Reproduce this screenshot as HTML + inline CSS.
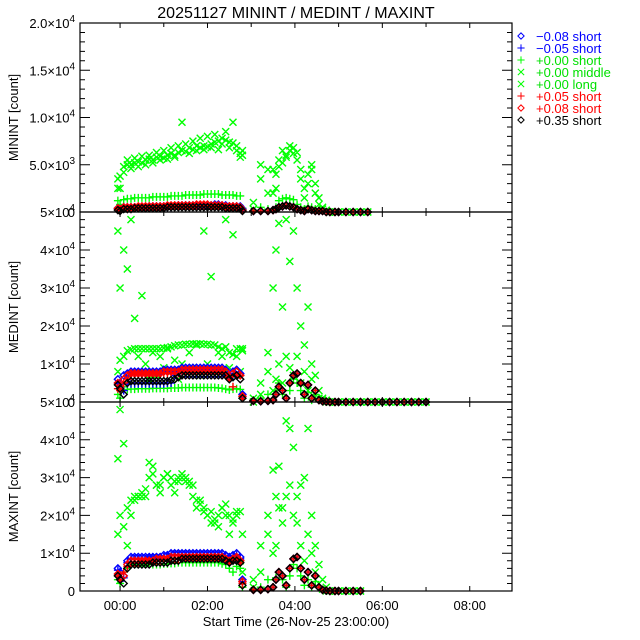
<!DOCTYPE html>
<html><head><meta charset="utf-8"><style>
html,body{margin:0;padding:0;background:#fff}
svg{display:block;font-family:"Liberation Sans",sans-serif}
</style></head><body>
<svg id="chart" width="640" height="640" viewBox="0 0 640 640" xmlns="http://www.w3.org/2000/svg">
<rect width="640" height="640" fill="#fff"/>
<text x="296" y="18" font-size="16" text-anchor="middle">20251127 MININT / MEDINT / MAXINT</text>
<text x="296" y="626" font-size="13" text-anchor="middle">Start Time (26-Nov-25 23:00:00)</text>
<g id="plots"></g>
<g id="legend"></g>
</svg>
<script>
// minutes after 23:00
const times=[57,60,65,70,75,80,85,90,95,100,105,110,115,120,125,130,135,140,145,150,155,160,165,170,175,180,185,190,195,200,205,210,215,220,225,228,
243,253,263,270,274,278,283,288,293,298,303,308,313,318,323,328,333,338,343,348,
355,360,370,380,390,400,410,420,430,440,450,460,470,480];
const xTickLabels=["00:00","02:00","04:00","06:00","08:00"];
const xTickMinutes=[60,180,300,420,540];
const seriesNames=["-0.08 short","-0.05 short","+0.00 short","+0.00 middle","+0.00 long","+0.05 short","+0.08 short","+0.35 short"];
const legendLabels=["\u22120.08 short","\u22120.05 short","+0.00 short","+0.00 middle","+0.00 long","+0.05 short","+0.08 short","+0.35 short"];

// ---- MININT (thousands) ----
const topSeg2Dia=[0.1,0.1,0.1,0.2,0.3,0.5,0.6,0.7,0.6,0.5,0.3,0.2,0.1,0.3,0.2,0.1,0.1,0.1,0,0];
const topTail=[0,0,0,0,0,0,null,null,null,null,null,null,null,null];
const topBD=[0.4,0.3,0.5,0.5,0.5,0.5,0.5,0.5,0.5,0.6,0.6,0.6,0.6,0.6,0.6,0.6,0.6,0.7,0.7,0.7,0.7,0.7,0.7,0.7,0.7,0.7,0.7,0.8,0.8,0.7,0.7,0.6,0.6,0.6,0.6,0.3];
const topBP=[0.3,0.3,0.4,0.4,0.5,0.5,0.5,0.5,0.5,0.5,0.5,0.5,0.5,0.5,0.5,0.5,0.6,0.6,0.6,0.6,0.6,0.6,0.6,0.6,0.6,0.6,0.6,0.7,0.7,0.6,0.6,0.5,0.5,0.5,0.5,0.2];
const topGP=[1.2,0.8,1.3,1.4,1.4,1.5,1.5,1.5,1.5,1.5,1.6,1.6,1.6,1.6,1.6,1.7,1.7,1.7,1.7,1.8,1.8,1.8,1.8,1.8,1.9,1.9,1.9,1.9,1.9,1.8,1.8,1.8,1.8,1.7,1.7,0.4];
const topGPseg2=[0.1,0.5,0.3,0.2,0.5,1.2,1.4,1.5,1.4,1.3,0.8,0.5,0.3,0.6,0.5,0.3,0.2,0.1,0,0];
const topGM=[3.5,2.5,4.8,5.0,5.0,5.2,5.3,5.2,5.5,5.6,5.5,5.8,5.9,5.7,6.0,6.2,6.0,6.3,6.5,6.4,6.8,6.6,7.0,6.8,7.0,6.9,7.2,7.4,7.5,7.2,7.6,7.4,7.3,6.5,6.2,6.0];
const topGMseg2=[0.3,3.5,4.5,2.0,4.0,4.8,5.2,6.0,6.5,6.8,6.3,3.5,2.5,4.0,4.5,2.0,0.8,0.3,0.1,0];
const topGL=[2.5,3.8,4.2,5.5,4.6,5.7,4.8,5.9,5.0,6.0,5.2,6.3,5.5,6.5,5.6,6.8,5.8,7.0,9.5,7.2,6.2,7.5,6.5,7.8,6.6,8.0,6.8,8.2,6.6,7.8,8.5,6.8,9.5,7.0,5.8,6.5];
const topGLseg2=[1.0,5.0,2.0,4.5,2.5,5.5,6.5,5.8,7.0,6.2,5.5,4.5,1.5,3.0,5.0,3.0,1.5,0.5,0.2,0];
const topRP=[0.3,0.2,0.4,0.5,0.5,0.5,0.5,0.5,0.6,0.6,0.6,0.6,0.6,0.6,0.6,0.6,0.7,0.7,0.7,0.7,0.7,0.7,0.7,0.7,0.7,0.7,0.7,0.7,0.7,0.7,0.6,0.6,0.6,0.6,0.5,0.2];
const topRD=[0.4,0.3,0.5,0.5,0.5,0.5,0.6,0.6,0.6,0.6,0.6,0.6,0.6,0.6,0.7,0.7,0.7,0.7,0.7,0.7,0.7,0.7,0.8,0.8,0.8,0.8,0.7,0.7,0.7,0.7,0.6,0.6,0.6,0.6,0.5,0.2];
const topKD=[0.2,0.1,0.3,0.3,0.3,0.4,0.4,0.4,0.4,0.4,0.4,0.4,0.4,0.4,0.5,0.5,0.5,0.5,0.5,0.5,0.5,0.5,0.5,0.5,0.5,0.5,0.5,0.5,0.5,0.5,0.4,0.4,0.4,0.4,0.4,0.1];

// ---- MEDINT (thousands) ----
const midSeg2Dia=[0.3,0.2,0.3,0.5,2,4,3,1,5,7,7.5,5,2,4.5,1,3,0.5,0.2,0.1,0];
const midTail=[0,0,0,0,0,0,0,0,0,0,0,0,0,0];
const midBD=[6,5,7,7.5,8,8,8,8,8,8,8,8,8,8.5,8.5,8.5,8.5,8.5,9,9,9,9,9,9,9,9,9,9,9,9,8.5,7,8,8.5,7.5,2];
const midBP=[5,4,3,4.8,4.8,4.8,4.8,4.8,4.8,4.8,4.8,4.8,4.8,4.8,5,5,7,7.5,7.5,7.5,7.5,7.5,7.5,7.5,7.5,7.5,7.5,7.5,7.5,7.5,7,6.5,7,7,7,1.5];
const midGP=[2,1,4,3.3,3.4,3.4,3.5,3.5,3.5,3.5,3.6,3.6,3.6,3.6,3.6,3.7,3.7,3.7,3.8,3.8,3.8,3.8,3.8,3.8,3.8,3.8,3.8,3.8,3.7,3.6,3.4,3.2,3.4,3.5,3.3,1];
const midGPseg2=[0.5,1,2,0.5,3,5,2,1,3,6,5,3,1,2.5,0.5,2,1,0.3,0.1,0];
const midGM=[8,11,12,13.5,13.8,14,14,14,14,14,14,14,14,14.2,14.3,14.5,14.8,15,15,15.2,15.2,15.3,15.3,15.3,15.2,15.2,15,15,14.5,14,14.5,13,12.5,14,14,13.5];
const midGMseg2=[0,2,8,3,6,10,5,12,9,7,12,5,8,3,6,2,1,0.5,0,0];
const midGL=[45,30,40,35,48,22,12,28,10,6,13,7,12,9,14,8,11,6,10,8,13,9,15,7,45,10,33,8,13,12,48,9,44,12,8,14];
const midGLseg2=[1,5,13,30,40,47,25,48,37,45,30,20,15,25,10,7,3,1,0.5,0];
const midRP=[3.5,3,5,6,7.5,7.5,7.5,7.5,7.5,7.5,7.5,7.5,7.5,7.5,7.5,7.5,7.5,7.5,8,8,8,8,8,8,8,8,8,8,8,8,7.5,6.5,4,7,7,1.5];
const midRD=[5,4,6,7,7.5,7.5,7.5,7.5,7.5,7.5,7.5,7.5,7.5,8,8,8,8,8,8.5,8.5,8.5,8.5,8.5,8.5,8.5,8.5,8.5,8.5,8.5,8.5,8,6.5,7.5,8,7,1.5];
const midKD=[4.5,3.5,2,5,5.5,5.5,5.5,5.5,5.5,5.5,5.5,5.5,5.5,5.5,5.5,5.8,6,6.5,7,7,7,7,7,7,7,7,7,7,7,7,7,6,6.5,7,6,1];

// ---- MAXINT (thousands) ----
const botSeg2Dia=[0.3,0.3,0.5,1,3,5,4,1.5,6,8.5,9,6,3,5,1.5,4,1,0.3,0.1,0];
const botTail=[0,0,0,0,0,null,null,null,null,null,null,null,null,null];
const botBD=[6,5,4,8,9,9,9,9,9,9,9,9,9,9.5,9.5,10,10,10,10,10,10,10,10,10,10,10,10,10,10,10,9.5,9,9.5,10,9,3];
const botBP=[5.5,4.5,3.5,7.5,8.5,8.5,8.5,8.5,8.5,9,9,9,9,9,9,9.5,9.5,9.5,9.5,9.5,9.5,9.5,9.5,9.5,9.5,9.5,9.5,9.5,9.5,9.5,9,8.5,9,9.5,8.5,2.5];
const botGP=[3,2,5,6,7,7,7,7,7,7,7,7,7,7.2,7.2,7.3,7.3,7.5,7.5,7.5,7.5,7.5,7.5,7.5,7.5,7.5,7.5,7.5,7.5,7.2,7,6,5,6.5,6,1];
const botGPseg2=[0.5,1,3,1,3.5,5,3,1,4,7,6,4,1.5,3,1,2.5,1,0.3,0.1,0];
const botGM=[15,20,17,22,24,25,25,25,27,34,31,28,28,30,31,30,29,30,31,30,29,28,24,23,22,20,21,18,20,22,23,20,19,21,21,15];
const botGMseg2=[1,5,15,10,12,22,18,25,28,20,18,12,8,15,10,5,2,0.5,0,0];
const botGL=[35,48,39,12,20,24,25,26,25,30,33,28,26,30,31,28,26,29,30,29,28,25,22,24,21,20,18,19,17,22,20,15,18,20,8,5];
const botGLseg2=[3,12,20,32,25,33,22,45,43,38,25,28,30,43,20,12,7,3,1,0];
const botRP=[4,3,5,6.5,7.5,7.5,7.5,8,8,8,8,8,8,8.5,8.5,8.5,8.5,8.5,9,9,9,9,9,9,9,9,9,9,9,9,8.5,8,8.5,9,8,2];
const botRD=[4.5,3.5,4,7,8,8,8,8,8,8,8,8.5,8.5,8.5,8.5,9,9,9,9,9,9,9,9,9,9,9,9,9,9,9,8.5,8,8.5,9,8,2.5];
const botKD=[4,3,2,6,7,7,7,7,7,7,7.5,7.5,7.5,7.5,7.5,8,8,8,8.5,8.5,8.5,8.5,8.5,8.5,8.5,8.5,8.5,8.5,8.5,8.5,8,7.5,8,8,7.5,1.5];

const NS="http://www.w3.org/2000/svg";
const X0=80,X1=512,TMIN=5,TMAX=598;
function xs(m){return X0+(m-TMIN)/(TMAX-TMIN)*(X1-X0);}
function el(tag,attrs,parent){const e=document.createElementNS(NS,tag);for(const k in attrs)e.setAttribute(k,attrs[k]);parent.appendChild(e);return e;}

const styles=[
 {c:"#0000ff",m:"dia"},{c:"#0000ff",m:"plus"},{c:"#00ff00",m:"plus"},{c:"#00ff00",m:"x"},
 {c:"#00ff00",m:"x"},{c:"#ff0000",m:"plus"},{c:"#ff0000",m:"dia"},{c:"#000000",m:"dia"}];

function markerPath(m,x,y,s){
  s=s||1;
  if(m==="dia"){const r=3.5*s;return `M${x-r},${y}L${x},${y-r}L${x+r},${y}L${x},${y+r}Z`;}
  if(m==="plus"){const r=4*s;return `M${x-r},${y}H${x+r}M${x},${y-r}V${y+r}`;}
  const r=3.5*s;return `M${x-r},${y-r}L${x+r},${y+r}M${x-r},${y+r}L${x+r},${y-r}`;
}

const panels=[
 {name:"minint",label:"MININT [count]",top:23,bot:212,max:20,
  ticks:[0,5,10,15,20],tickLabels:["0","5.0×10|3","1.0×10|4","1.5×10|4","2.0×10|4"],minor:1,
  series:[topBD.concat(topSeg2Dia,topTail),topBP.concat(topSeg2Dia,topTail),topGP.concat(topGPseg2,topTail),topGM.concat(topGMseg2,topTail),topGL.concat(topGLseg2,topTail),topRP.concat(topSeg2Dia,topTail),topRD.concat(topSeg2Dia,topTail),topKD.concat(topSeg2Dia,topTail)]},
 {name:"medint",label:"MEDINT [count]",top:212,bot:402,max:50,
  ticks:[0,10,20,30,40,50],tickLabels:["0","1×10|4","2×10|4","3×10|4","4×10|4","5×10|4"],minor:2,
  series:[midBD.concat(midSeg2Dia,midTail),midBP.concat(midSeg2Dia,midTail),midGP.concat(midGPseg2,midTail),midGM.concat(midGMseg2,midTail),midGL.concat(midGLseg2,midTail),midRP.concat(midSeg2Dia,midTail),midRD.concat(midSeg2Dia,midTail),midKD.concat(midSeg2Dia,midTail)]},
 {name:"maxint",label:"MAXINT [count]",top:402,bot:591,max:50,
  ticks:[0,10,20,30,40,50],tickLabels:["0","1×10|4","2×10|4","3×10|4","4×10|4","5×10|4"],minor:2,
  series:[botBD.concat(botSeg2Dia,botTail),botBP.concat(botSeg2Dia,botTail),botGP.concat(botGPseg2,botTail),botGM.concat(botGMseg2,botTail),botGL.concat(botGLseg2,botTail),botRP.concat(botSeg2Dia,botTail),botRD.concat(botSeg2Dia,botTail),botKD.concat(botSeg2Dia,botTail)]}
];
const drawOrder=[4,3,2,0,1,5,6,7];
const plots=document.getElementById("plots");

panels.forEach((p,pi)=>{
  const g=el("g",{},plots);
  
  
  const ys=v=>p.bot-(v/p.max)*(p.bot-p.top);
  drawOrder.forEach(si=>{
    const st=styles[si];let d="";
    p.series[si].forEach((v,i)=>{ if(v===null||v===undefined)return; d+=markerPath(st.m,xs(times[i]),ys(v)); });
    const path=el("path",{d:d,fill:"none",stroke:st.c,"stroke-width":1.4},g);
    
    
  });
  const fr=el("rect",{x:X0,y:p.top,width:X1-X0,height:p.bot-p.top,fill:"none",stroke:"#000","stroke-width":1.2},g);
  
  
  let td="";
  for(let v=0;v<=p.max+1e-9;v+=p.minor){
    const y=ys(v);const major=p.ticks.some(t=>Math.abs(t-v)<1e-9);const L=major?10:5;
    td+=`M${X0},${y}h${L}M${X1},${y}h${-L}`;
  }
  for(let m=60;m<=540;m+=60){
    const x=xs(m);const L=((m-60)%120===0)?5:4;
    td+=`M${x},${p.bot}v${-L}M${x},${p.top}v${L}`;
  }
  const tk=el("path",{d:td,stroke:"#000","stroke-width":1,fill:"none"},g);
  
  
  p.ticks.forEach((v,i)=>{
    const parts=p.tickLabels[i].split("|");
    const t=el("text",{x:75,y:ys(v)+5,"font-size":13,"text-anchor":"end"},g);
    
    
    if(parts.length===1){t.textContent=parts[0];}
    else{
      const a=el("tspan",{},t);a.textContent=parts[0];
      const b=el("tspan",{dy:-6,"font-size":10},t);b.textContent=parts[1];
    }
  });
  const yl=el("text",{x:0,y:0,"font-size":13,"text-anchor":"middle",transform:`translate(18,${(p.top+p.bot)/2}) rotate(-90)`},g);
  
  
  yl.textContent=p.label;
  if(pi===2){
    xTickMinutes.forEach((m,i)=>{
      const t=el("text",{x:xs(m),y:610,"font-size":13,"text-anchor":"middle"},g);
      
      
      t.textContent=xTickLabels[i];
    });
  }
});

const lg=document.getElementById("legend");
legendLabels.forEach((lab,i)=>{
  const y=36+12*i;const st=styles[i];
  const mk=el("path",{d:markerPath(st.m,521,y,0.9),fill:"none",stroke:st.c,"stroke-width":1},lg);
  
  
  const t=el("text",{x:536,y:y+5,"font-size":13,fill:st.c==="#00ff00"?"#00e000":st.c},lg);
  
  
  t.textContent=lab;
});
</script>
</body></html>
